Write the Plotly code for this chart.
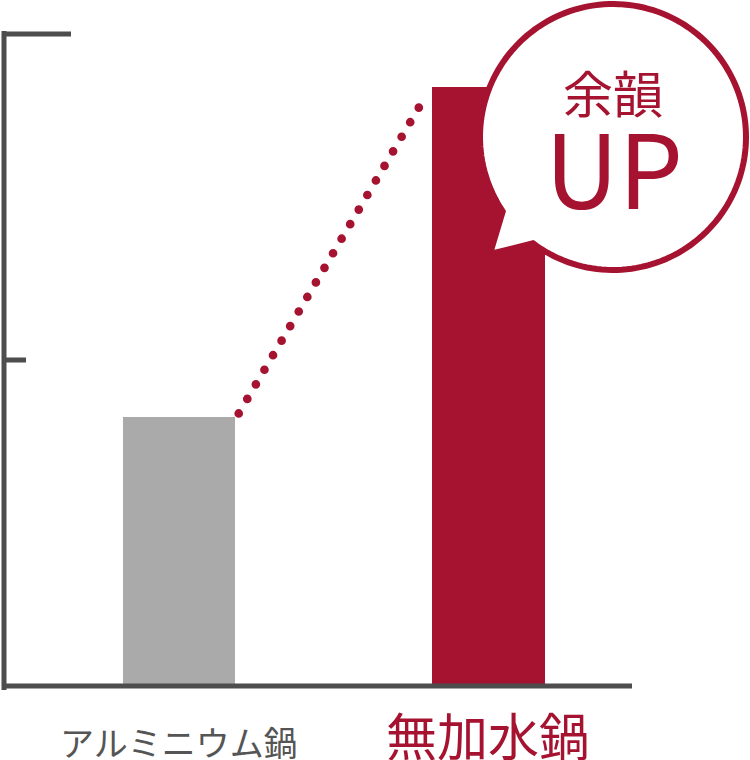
import numpy as np
import plotly.graph_objects as go

# ---- data ----
categories = ["アルミニウム鍋", "無加水鍋"]
values = [41.3, 91.8]
y_tick_values = [50, 100]
callout_lines = ["余韻", "UP"]

# ---- styles ----
RED = "#a51331"
GRAY_BAR = "#aaaaaa"
AXIS = "#4d4d4d"
LABEL_GRAY = "#555555"
FONT = "Noto Sans CJK JP"

W, H = 750, 760
L, R, T, B = 4, 118, 34, 74
PW = W - L - R
PH = H - T - B
Y_RANGE = [0, 100]
X_RANGE = [-0.5654, 1.4637]
BAR_W = 0.362
x_pos = list(range(len(categories)))


def px_to_paper(px, py):
    return (px - L) / PW, (H - B - py) / PH


fig = go.Figure()

fig.add_trace(go.Bar(
    x=x_pos, y=values, width=BAR_W,
    marker=dict(color=[GRAY_BAR, RED], line=dict(width=0)),
    hoverinfo="skip", showlegend=False,
))

# dotted connector from gray bar top to red bar top
cx = [x_pos[0] + BAR_W / 2 + 0.012, x_pos[1] - BAR_W / 2 - 0.043]
cy = [values[0] + 0.5, values[1] - 3.0]
fig.add_trace(go.Scatter(
    x=cx, y=cy, mode="lines",
    line=dict(color=RED, width=8.7, dash="0px,16.9px"),
    hoverinfo="skip", showlegend=False,
))

shapes = []
# axis lines
x_left_ext, _ = px_to_paper(2, 0)
_, y_bot_ext = px_to_paper(0, 690)
_, y_top_ext = px_to_paper(0, 31)
shapes.append(dict(type="line", xref="paper", yref="paper", x0=0, x1=0,
                   y0=y_bot_ext, y1=y_top_ext, line=dict(color=AXIS, width=5)))
shapes.append(dict(type="line", xref="paper", yref="paper", x0=x_left_ext, x1=1,
                   y0=0, y1=0, line=dict(color=AXIS, width=5)))
tick_lengths_px = {50: 26, 100: 71}
for v in y_tick_values:
    xe, _ = px_to_paper(tick_lengths_px[v], 0)
    yp = (v - Y_RANGE[0]) / (Y_RANGE[1] - Y_RANGE[0])
    shapes.append(dict(type="line", xref="paper", yref="paper", x0=x_left_ext, x1=xe,
                       y0=yp, y1=yp, line=dict(color=AXIS, width=5)))

# speech bubble (pixel geometry around its centre)
bcx, bcy = 613, 137
br = 133
ang = np.deg2rad(np.linspace(233, 214 + 360, 160))
pts = [(br * np.cos(a), br * np.sin(a)) for a in ang]
tip = (490 - bcx, bcy - 254)
path = "M " + " L ".join(f"{x:.2f},{y:.2f}" for x, y in pts) + f" L {tip[0]:.2f},{tip[1]:.2f} Z"
ax_, ay_ = px_to_paper(bcx, bcy)
shapes.append(dict(type="path", xref="paper", yref="paper",
                   xsizemode="pixel", ysizemode="pixel", xanchor=ax_, yanchor=ay_,
                   path=path, fillcolor="white", line=dict(color=RED, width=6),
                   layer="above"))

annotations = []
label_styles = [(LABEL_GRAY, 34, 741), (RED, 51, 734)]
for xp, name, (col, size, ypx) in zip(x_pos, categories, label_styles):
    _, yp = px_to_paper(0, ypx)
    annotations.append(dict(x=xp, y=yp, xref="x", yref="paper", text=name, showarrow=False,
                            xanchor="center", yanchor="middle",
                            font=dict(family=FONT, size=size, color=col)))

bubble_text = [(callout_lines[0], 50, 613, 91), (callout_lines[1], 102, 614, 165)]
for txt, size, xpx, ypx in bubble_text:
    xp, yp = px_to_paper(xpx, ypx)
    annotations.append(dict(x=xp, y=yp, xref="paper", yref="paper", text=txt, showarrow=False,
                            xanchor="center", yanchor="middle",
                            font=dict(family=FONT, size=size, color=RED)))

fig.update_layout(
    width=W, height=H,
    margin=dict(l=L, r=R, t=T, b=B, pad=0),
    paper_bgcolor="white", plot_bgcolor="white",
    showlegend=False,
    xaxis=dict(range=X_RANGE, visible=False, fixedrange=True),
    yaxis=dict(range=Y_RANGE, visible=False, fixedrange=True),
    shapes=shapes, annotations=annotations,
    bargap=0,
)

post = """
document.body.style.margin = '0';
document.body.style.padding = '0';
document.body.style.overflow = 'hidden';
var gd = document.getElementById('{plot_id}');
function roundCaps(){
  gd.querySelectorAll('.scatterlayer path.js-line').forEach(function(p){
    p.style.strokeLinecap = 'round';
  });
}
roundCaps();
if (gd.on) { gd.on('plotly_afterplot', roundCaps); }
"""
fig.write_html("out.html", post_script=post, config={"displayModeBar": False, "staticPlot": True})
